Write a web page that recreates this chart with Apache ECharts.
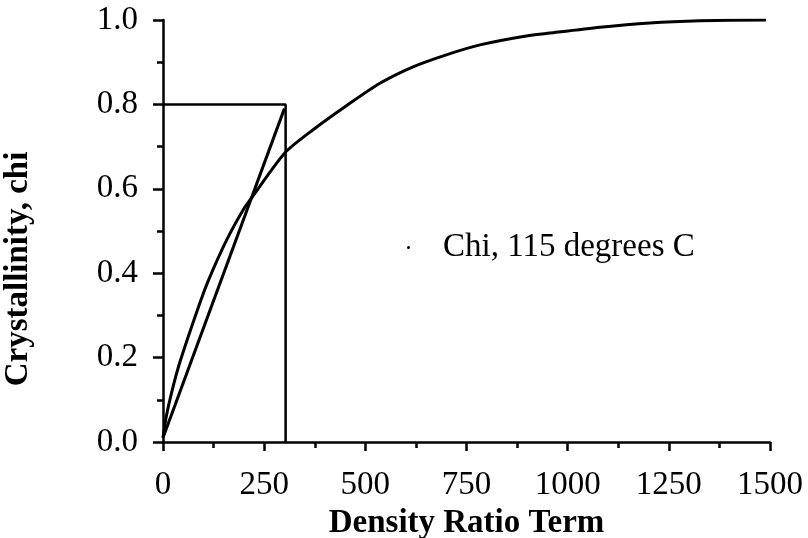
<!DOCTYPE html>
<html>
<head>
<meta charset="utf-8">
<script src="https://cdn.jsdelivr.net/npm/echarts@6/dist/echarts.min.js"></script>
<style>
  html, body { margin: 0; padding: 0; background: #fff; }
  #chart { width: 808px; height: 538px; }
</style>
</head>
<body>
<div id="chart"></div>
<script>
// x values (density ratio term)
const chiX = [0, 8, 22, 42, 84, 111, 158, 198, 220, 301, 371, 455, 536, 618, 702, 783, 890, 956, 1080, 1203, 1327, 1490];
const chiY = [0.01, 0.06, 0.12, 0.19, 0.31, 0.38, 0.48, 0.55, 0.58, 0.685, 0.74, 0.798, 0.85, 0.889, 0.918, 0.941, 0.961, 0.969, 0.983, 0.993, 0.998, 1.0];

// straight ramp and the step box
const rampX = [0, 300];
const rampY = [0.01, 0.79];
const boxX = [0, 303, 303];
const boxY = [0.8, 0.8, 0];

const xTicks = [0, 250, 500, 750, 1000, 1250, 1500];
const yTicks = [0, 0.2, 0.4, 0.6, 0.8, 1.0];

const legendName = 'Chi, 115 degrees C';

const zip = (xs, ys) => xs.map((x, i) => [x, ys[i]]);

const chart = echarts.init(document.getElementById('chart'));

const serif = '"Liberation Serif", "DejaVu Serif", serif';

const option = {
    animation: false,
    grid: { left: 163, right: 38, top: 20, bottom: 96, outerBoundsMode: 'none' },
    legend: {
        data: [legendName],
        left: 402,
        top: 226,
        icon: 'circle',
        itemWidth: 3,
        itemHeight: 3,
        itemGap: 0,
        textStyle: {
            fontFamily: serif,
            fontSize: 33,
            color: '#000',
            padding: [0, 0, 0, 28]
        }
    },
    xAxis: {
        type: 'value',
        min: xTicks[0],
        max: xTicks[xTicks.length - 1],
        interval: 250,
        name: 'Density Ratio Term',
        nameLocation: 'middle',
        nameGap: 63,
        nameTextStyle: { fontFamily: serif, fontSize: 33, fontWeight: 'bold', color: '#000' },
        axisLine: { lineStyle: { color: '#000', width: 2.5 } },
        axisTick: { length: 9, lineStyle: { color: '#000', width: 2.5 } },
        minorTick: { show: true, splitNumber: 2, length: 6, lineStyle: { color: '#000', width: 2.5 } },
        axisLabel: {
            fontFamily: serif, fontSize: 33, color: '#000', margin: 27,
            formatter: v => String(v)
        },
        splitLine: { show: false }
    },
    yAxis: {
        type: 'value',
        min: yTicks[0],
        max: yTicks[yTicks.length - 1],
        interval: 0.2,
        name: 'Crystallinity, chi',
        nameLocation: 'middle',
        nameGap: 128,
        nameRotate: 90,
        nameTextStyle: {
            fontFamily: serif, fontSize: 33, fontWeight: 'bold', color: '#000',
            padding: [0, 76, 0, 0]
        },
        axisLine: { show: true, lineStyle: { color: '#000', width: 2.5 } },
        axisTick: { show: true, length: 10, lineStyle: { color: '#000', width: 2.5 } },
        minorTick: { show: true, splitNumber: 2, length: 6, lineStyle: { color: '#000', width: 2.5 } },
        axisLabel: {
            fontFamily: serif, fontSize: 33, color: '#000', margin: 25,
            formatter: v => v.toFixed(1)
        },
        splitLine: { show: false }
    },
    series: [
        {
            name: legendName,
            type: 'line',
            data: zip(chiX, chiY),
            smooth: 0.25,
            symbol: 'none',
            itemStyle: { color: '#000' },
            lineStyle: { color: '#000', width: 3 }
        },
        {
            type: 'line',
            data: zip(rampX, rampY),
            symbol: 'none',
            lineStyle: { color: '#000', width: 3 }
        },
        {
            type: 'line',
            data: zip(boxX, boxY),
            symbol: 'none',
            lineStyle: { color: '#000', width: 2.5 }
        }
    ]
};

chart.setOption(option);
</script>
</body>
</html>
